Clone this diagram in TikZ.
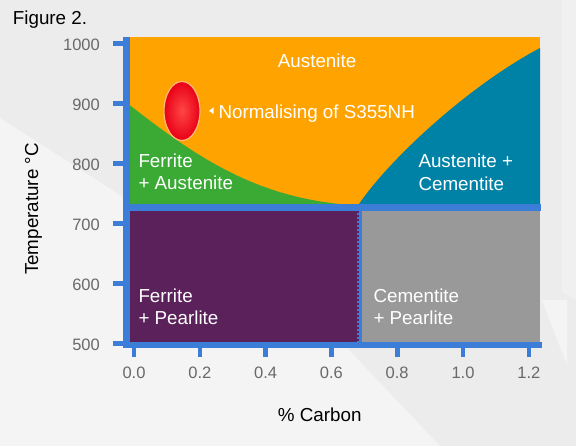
\documentclass[tikz,border=0pt]{standalone}
\usepackage{fontspec}
\setmainfont{Liberation Sans}
\usetikzlibrary{shapes.geometric}
\definecolor{orangeC}{RGB}{255,163,0}
\definecolor{greenC}{RGB}{58,170,53}
\definecolor{tealC}{RGB}{0,130,166}
\definecolor{purpleC}{RGB}{90,33,90}
\definecolor{grayC}{RGB}{153,153,153}
\definecolor{axisC}{RGB}{60,125,215}
\definecolor{tickC}{RGB}{105,105,105}
\definecolor{bgC}{RGB}{236,236,236}
\definecolor{bgL}{RGB}{244,244,244}
\definecolor{ellEdge}{RGB}{255,185,120}
\definecolor{ellIn}{RGB}{255,70,70}
\definecolor{ellOut}{RGB}{232,0,22}
\begin{document}
\begin{tikzpicture}[x=1pt,y=-1pt,
  lbl/.style={text=white, font=\fontsize{18.8}{22.3}\selectfont, align=left, anchor=base west, inner sep=0pt},
  ytick/.style={text=tickC, font=\fontsize{16.5}{16.5}\selectfont, anchor=east, inner sep=0pt},
  xtick/.style={text=tickC, font=\fontsize{16.5}{16.5}\selectfont, anchor=center, inner sep=0pt},
  axlbl/.style={text=black, font=\fontsize{18.8}{18.8}\selectfont, inner sep=0pt},
  axfill/.style={fill=axisC}]
\useasboundingbox (0,0) rectangle (576,446);
% background
\fill[bgC] (0,0) rectangle (576,446);
\fill[bgL] (0,118) -- (330,330) -- (440,446) -- (0,446) -- cycle;
\fill[bgC!50!bgL] (562,0) -- (576,0) -- (576,300) -- (562,292) -- cycle;
\fill[bgL] (542,300) -- (567,300) -- (567,365) -- cycle;
% phase regions
\fill[orangeC] (129.5,37) rectangle (540,205.5);
\fill[greenC] (129.5,105) .. controls (200,160) and (260,200) .. (358,205.5) -- (129.5,205.5) -- cycle;
\fill[tealC] (358,205.5) .. controls (390,158) and (470,85) .. (540,48) -- (540,205.5) -- cycle;
\fill[axisC] (129.5,204.5) rectangle (541,211);
\fill[purpleC] (129.5,211) rectangle (357,342);
\fill[grayC] (362,211) rectangle (540,342);
\fill[axisC] (357,211) rectangle (362,342);
\draw[purpleC, line width=1.5pt, dash pattern=on 2pt off 2pt] (357.75,211) -- (357.75,342);
% axes
\fill[axfill] (123,37) rectangle (129.5,348);
\fill[axfill] (123,342) rectangle (541.7,348);
\foreach \i in {0,...,5} \fill[axfill] (113,{40.8+\i*60}) rectangle (125,{45.8+\i*60});
\foreach \i in {0,...,6} \fill[axfill] ({131.7+\i*65.8},348) rectangle ({136.3+\i*65.8},357);
% tick labels
\foreach \v [count=\i from 0] in {1000,900,800,700,600,500}
  \node[ytick] (yl\v) at (100,{44.5+\i*60}) {\v};
\foreach \v [count=\i from 0] in {0.0,0.2,0.4,0.6,0.8,1.0,1.2}
  \node[xtick] (xl\i) at ({134+\i*65.8},373) {\v};
% normalising marker
\node[ellipse, minimum width=36pt, minimum height=59pt, inner sep=0pt, draw=ellEdge, line width=1.2pt, shading=radial, inner color=ellIn, outer color=ellOut] (norm) at (182,111) {};
\fill[white] (209,110.8) -- (213.5,107.5) -- (213.5,114) -- cycle;
% labels (base anchor = last line's baseline)
\node[lbl] (aus) at (277.7,67.7) {Austenite};
\node[lbl] (normtext) at (218.3,118.3) {Normalising of S355NH};
\node[lbl] (fa) at (138.3,190) {Ferrite\\+ Austenite};
\node[lbl] (ac) at (418.3,190.3) {Austenite +\\Cementite};
\node[lbl] (fp) at (138.3,325) {Ferrite\\+ Pearlite};
\node[lbl] (cp) at (373.3,325) {Cementite\\+ Pearlite};
% titles
\node[axlbl, anchor=base west] (fig) at (12.7,25) {Figure 2.};
\node[axlbl, anchor=base] (xlab) at (319.7,421.7) {\% Carbon};
\node[axlbl, anchor=base, rotate=90] (ylab) at (38,209) {Temperature °C};
\end{tikzpicture}
\end{document}
